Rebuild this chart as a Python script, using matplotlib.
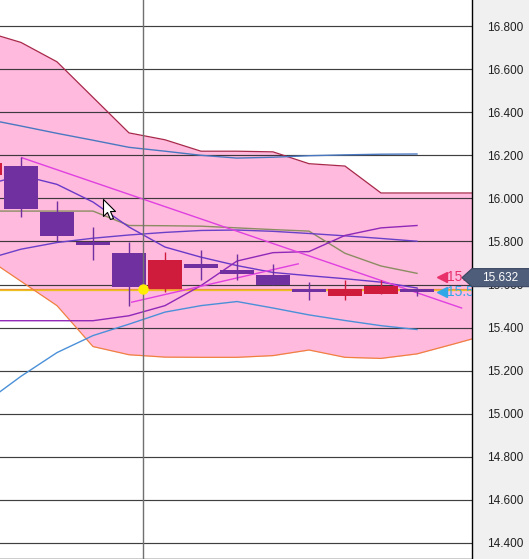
import matplotlib.pyplot as plt
import numpy as np
from matplotlib.path import Path
from matplotlib.patches import Polygon
from matplotlib.transforms import IdentityTransform

plt.rcParams['font.family'] = ['Liberation Sans Narrow', 'Liberation Sans', 'DejaVu Sans']

# candles, bar -1 is cut off at the left edge
bars = np.arange(-1, 12)
opens  = [16.107, 16.149, 15.936, 15.799, 15.747, 15.581, 15.696, 15.668, 15.645, 15.580, 15.546, 15.555, 15.580]
highs  = [16.180, 16.191, 15.986, 15.867, 15.799, 15.753, 15.758, 15.740, 15.696, 15.614, 15.622, 15.622, 15.585]
lows   = [16.100, 15.912, 15.801, 15.715, 15.501, 15.567, 15.619, 15.619, 15.600, 15.526, 15.530, 15.555, 15.549]
closes = [16.163, 15.950, 15.827, 15.785, 15.587, 15.715, 15.678, 15.647, 15.600, 15.567, 15.580, 15.591, 15.566]

# ichimoku cloud runs two bars further
cloud_x = np.arange(-1, 14)
span_a = [16.774, 16.724, 16.634, 16.469, 16.304, 16.272, 16.219, 16.219, 16.216, 16.161, 16.150,
          16.025, 16.025, 16.025, 16.025]
span_b = [15.728, 15.615, 15.502, 15.312, 15.274, 15.263, 15.262, 15.262, 15.270, 15.296, 15.262,
          15.257, 15.278, 15.323, 15.369]

# indicator lines over the candles
upper_blue   = [16.369, 16.336, 16.302, 16.270, 16.237, 16.219, 16.200, 16.187, 16.191, 16.198, 16.202, 16.205, 16.206]
base_line    = [15.941, 15.941, 15.941, 15.941, 15.874, 15.873, 15.871, 15.863, 15.855, 15.848, 15.745, 15.686, 15.652]
slow_ma      = [15.716, 15.764, 15.795, 15.815, 15.830, 15.842, 15.851, 15.853, 15.847, 15.837, 15.826, 15.814, 15.801]
fast_ma      = [16.061, 16.107, 16.065, 15.983, 15.867, 15.774, 15.727, 15.688, 15.656, 15.641, 15.627, 15.611, 15.584]
rising_line  = [15.432, 15.432, 15.432, 15.432, 15.455, 15.502, 15.595, 15.709, 15.748, 15.753, 15.828, 15.863, 15.874]
lower_blue   = [15.051, 15.174, 15.284, 15.363, 15.416, 15.472, 15.502, 15.521, 15.491, 15.459, 15.433, 15.409, 15.391]

# hand drawn trend lines (bar, price)
trend_down = ([0.02, 12.24], [16.189, 15.491])
trend_up   = ([3.075, 7.70], [15.518, 15.696])

# horizontal levels
level_orange = 15.581
level_gold   = 15.574

last_price = 15.632
tag_pink   = 15.634
tag_blue   = 15.565
cross_x    = 3.39
cross_y    = 15.577
cursor_at  = (2.28, 15.997)

yticks = np.arange(14.4, 16.81, 0.2)


def main():
    fig = plt.figure(figsize=(5.29, 5.59), dpi=100, facecolor='#f0f0f0')
    ax = fig.add_axes([0, 0.5 / 559, 472 / 529, 558.5 / 559])
    ax.set_facecolor('white')
    ax.set_xlim(-0.583, 12.528)
    ax.set_ylim(14.328, 16.921)

    # cloud
    ax.fill_between(cloud_x, span_a, span_b, color='#ffbade', lw=0, zorder=0.3)
    ax.plot(cloud_x, span_a, color='#a8284a', lw=0.9, zorder=1.8)
    ax.plot(cloud_x, span_b, color='#f08040', lw=0.9, zorder=1.8)

    # grid
    ax.set_yticks(yticks)
    ax.set_yticklabels([f"{t:.3f}" for t in yticks])
    ax.grid(axis='y', color='#2a2a2a', lw=0.85, alpha=0.9)
    ax.set_axisbelow(True)
    ax.set_xticks([])

    ax.axhline(level_orange, color='#f09040', lw=0.9, zorder=1.5)
    ax.axhline(level_gold, color='#ecc020', lw=0.9, zorder=1.5)

    # lines
    ax.plot(bars, upper_blue, color='#4a78c0', lw=1.0, zorder=2)
    ax.plot(bars, base_line, color='#8c8c62', lw=1.0, zorder=2)
    ax.plot(bars, slow_ma, color='#6a40c8', lw=1.0, zorder=2)
    ax.plot(bars, fast_ma, color='#6a38c8', lw=1.0, zorder=2)
    ax.plot(bars, rising_line, color='#9028b8', lw=1.0, zorder=2)
    ax.plot(bars, lower_blue, color='#4a90d8', lw=1.0, zorder=2)
    ax.plot(*trend_down, color='#e040e0', lw=1.0, zorder=2.2)
    ax.plot(*trend_up, color='#e040e0', lw=1.0, zorder=2.2)

    # candles
    o = np.array(opens); c = np.array(closes)
    colors = np.where(c >= o, '#d01c3c', '#7030a0')
    ax.vlines(bars, lows, highs, colors=colors, lw=1.0, zorder=3)
    ax.bar(bars, np.maximum(np.abs(c - o), 0.003), bottom=np.minimum(o, c), width=0.96,
           color=colors, lw=0, zorder=3)

    # crosshair
    ax.axvline(cross_x, color='#707070', lw=1.0, zorder=3.5)
    ax.plot(cross_x, cross_y, 'o', ms=6.5, color='#ffee00', zorder=4)

    # tags at the right edge of the plot
    ax.plot(11.69, tag_pink, marker='<', ms=7, color='#e8306a', zorder=4, clip_on=False)
    ax.text(11.83, tag_pink, f"{tag_pink:.3f}", color='#e8306a', fontsize=10, va='center',
            clip_on=True, zorder=4)
    ax.plot(11.69, tag_blue, marker='<', ms=7, color='#30a8e8', zorder=4, clip_on=False)
    ax.text(11.83, tag_blue, f"{tag_blue:.3f}", color='#30a8e8', fontsize=10, va='center',
            clip_on=True, zorder=4)

    # mouse pointer
    cursor = Path([(0, 0), (0, -17), (4, -13), (7, -20), (10, -19), (7, -12), (12, -12), (0, 0)],
                  [Path.MOVETO] + [Path.LINETO] * 6 + [Path.CLOSEPOLY])
    ax.plot(*cursor_at, marker=cursor, ms=28.8, mfc='white', mec='black', mew=0.8, zorder=8)

    # frame and axis
    for side in ['top', 'left']:
        ax.spines[side].set_visible(False)
    for side in ['right', 'bottom']:
        ax.spines[side].set_color('black')
        ax.spines[side].set_linewidth(1.0)
    ax.yaxis.tick_right()
    ax.tick_params(axis='y', length=0, pad=11, labelsize=8.5, labelcolor='#202020')

    # last price box
    y = ax.transData.transform((0, last_price))[1]
    x0 = ax.transAxes.transform((1, 0))[0]
    box = Polygon([(x0 - 10, y), (x0, y + 9), (x0 + 70, y + 9), (x0 + 70, y - 9), (x0, y - 9)],
                  closed=True, transform=IdentityTransform(), facecolor='#4e5d7a',
                  edgecolor='#3a4660', lw=0.8, zorder=5)
    fig.add_artist(box)
    fig.text(500 / 529, y / 559, f"{last_price:.3f}", color='white', ha='center', va='center',
             fontsize=8.5, zorder=6)

    fig.savefig('out.png', dpi=100, facecolor=fig.get_facecolor())


if __name__ == "__main__":
    main()
